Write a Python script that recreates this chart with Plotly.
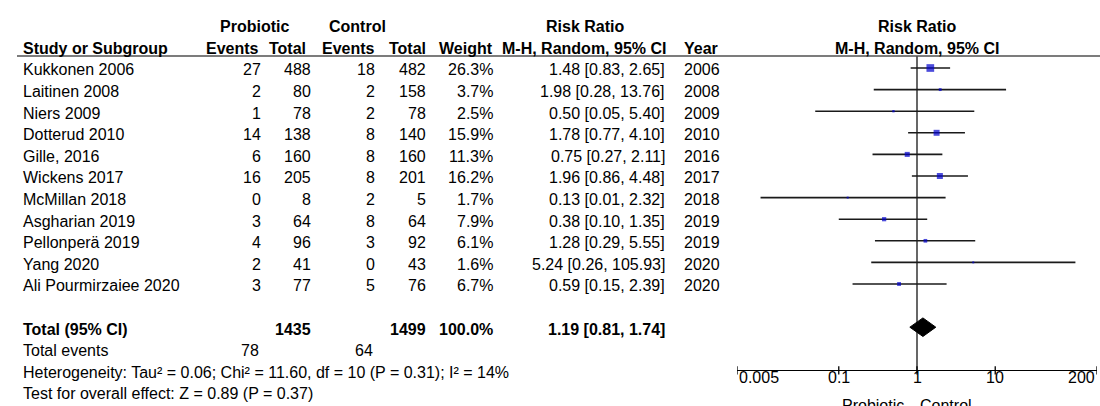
import math
import plotly.graph_objects as go

# ---------------- data ----------------
studies = ["Kukkonen 2006", "Laitinen 2008", "Niers 2009", "Dotterud 2010", "Gille, 2016",
           "Wickens 2017", "McMillan 2018", "Asgharian 2019", "Pellonperä 2019", "Yang 2020",
           "Ali Pourmirzaiee 2020"]
pro_events = [27, 2, 1, 14, 6, 16, 0, 3, 4, 2, 3]
pro_total = [488, 80, 78, 138, 160, 205, 8, 64, 96, 41, 77]
ctl_events = [18, 2, 2, 8, 8, 8, 2, 8, 3, 0, 5]
ctl_total = [482, 158, 78, 140, 160, 201, 5, 64, 92, 43, 76]
weight = [26.3, 3.7, 2.5, 15.9, 11.3, 16.2, 1.7, 7.9, 6.1, 1.6, 6.7]
rr = [1.48, 1.98, 0.50, 1.78, 0.75, 1.96, 0.13, 0.38, 1.28, 5.24, 0.59]
rr_lo = [0.83, 0.28, 0.05, 0.77, 0.27, 0.86, 0.01, 0.10, 0.29, 0.26, 0.15]
rr_hi = [2.65, 13.76, 5.40, 4.10, 2.11, 4.48, 2.32, 1.35, 5.55, 105.93, 2.39]
year = [2006, 2008, 2009, 2010, 2016, 2017, 2018, 2019, 2019, 2020, 2020]

total_pro = 1435
total_ctl = 1499
total_weight = 100.0
total_rr, total_lo, total_hi = 1.19, 0.81, 1.74
events_pro_sum = 78
events_ctl_sum = 64
heterogeneity = "Heterogeneity: Tau² = 0.06; Chi² = 11.60, df = 10 (P = 0.31); I² = 14%"
overall = "Test for overall effect: Z = 0.89 (P = 0.37)"

tick_vals = [0.005, 0.1, 1, 10, 200]
tick_text = ["0.005", "0.1", "1", "10", "200"]
null_value = 1
favours_left = "Probiotic"
favours_right = "Control"

# ---------------- layout constants ----------------
W, H = 1100, 406
ROW0_PX = 68.0      # pixel y of first study row
ROW_PX = 21.6       # row pitch in px
Y_TOP = (0 - ROW0_PX) / ROW_PX
Y_BOT = (H - ROW0_PX) / ROW_PX
TXT = 0.09          # text offset (rows)
FONT = "Liberation Sans, Arial, sans-serif"
FS = 16
n = len(studies)
total_row = n + 1
axis_row = total_row + 2
header_line_row = -0.56

def px(x):
    return x / W

def paper_y(row):
    return (Y_BOT - row) / (Y_BOT - Y_TOP)

ann = []
def txt(xpx, row, s, anchor="left", bold=False, xref="paper"):
    ann.append(dict(x=px(xpx) if xref == "paper" else xpx, y=row + TXT, xref=xref, yref="y",
                    text=f"<b>{s}</b>" if bold else s, showarrow=False,
                    xanchor=anchor, yanchor="middle",
                    font=dict(family=FONT, size=FS, color="#000")))

C_STUDY, C_PE, C_PT, C_CE, C_CT, C_W, C_CI, C_YEAR = 21, 263, 313, 377, 428, 495, 667, 682

# headers
txt(254, -2, "Probiotic", "center", True)
txt(357, -2, "Control", "center", True)
txt(585, -2, "Risk Ratio", "center", True)
txt(math.log10(null_value), -2, "Risk Ratio", "center", True, xref="x")
txt(C_STUDY, -1, "Study or Subgroup", "left", True)
txt(261, -1, "Events", "right", True)
txt(308, -1, "Total", "right", True)
txt(C_CE, -1, "Events", "right", True)
txt(C_CT, -1, "Total", "right", True)
txt(C_W, -1, "Weight", "right", True)
txt(668, -1, "M-H, Random, 95% CI", "right", True)
txt(C_YEAR, -1, "Year", "left", True)
txt(math.log10(null_value), -1, "M-H, Random, 95% CI", "center", True, xref="x")

# study rows
for i in range(n):
    txt(C_STUDY, i, studies[i])
    txt(C_PE, i, str(pro_events[i]), "right")
    txt(C_PT, i, str(pro_total[i]), "right")
    txt(C_CE, i, str(ctl_events[i]), "right")
    txt(C_CT, i, str(ctl_total[i]), "right")
    txt(C_W, i, f"{weight[i]:.1f}%", "right")
    txt(C_CI, i, f"{rr[i]:.2f} [{rr_lo[i]:.2f}, {rr_hi[i]:.2f}]", "right")
    txt(C_YEAR, i, str(year[i]))

# totals
txt(C_STUDY, total_row, "Total (95% CI)", "left", True)
txt(C_PT, total_row, str(total_pro), "right", True)
txt(C_CT, total_row, str(total_ctl), "right", True)
txt(C_W, total_row, f"{total_weight:.1f}%", "right", True)
txt(C_CI, total_row, f"{total_rr:.2f} [{total_lo:.2f}, {total_hi:.2f}]", "right", True)
txt(C_STUDY, total_row + 1, "Total events")
txt(261, total_row + 1, str(events_pro_sum), "right")
txt(375, total_row + 1, str(events_ctl_sum), "right")
txt(C_STUDY, total_row + 2, heterogeneity)
txt(C_STUDY, total_row + 3, overall)

# tick labels
for k, (tv, tt) in enumerate(zip(tick_vals, tick_text)):
    anchor = "left" if k == 0 else ("right" if k == len(tick_vals) - 1 else "center")
    ann.append(dict(x=math.log10(tv), y=axis_row + 0.33, xref="x", yref="y", text=tt,
                    showarrow=False, xanchor=anchor, yanchor="middle",
                    font=dict(family=FONT, size=FS, color="#000")))
ann.append(dict(x=px(906), y=axis_row + 1.62, xref="paper", yref="y", text=favours_left,
                showarrow=False, xanchor="right", yanchor="middle",
                font=dict(family=FONT, size=FS, color="#000")))
ann.append(dict(x=px(918), y=axis_row + 1.62, xref="paper", yref="y", text=favours_right,
                showarrow=False, xanchor="left", yanchor="middle",
                font=dict(family=FONT, size=FS, color="#000")))

fig = go.Figure()

# null line
fig.add_trace(go.Scatter(x=[null_value, null_value], y=[header_line_row, axis_row], mode="lines",
                         line=dict(color="#000", width=1.2), hoverinfo="skip",
                         showlegend=False, cliponaxis=False))
# CI lines
cx, cy = [], []
for i in range(n):
    cx += [rr_lo[i], rr_hi[i], None]
    cy += [i, i, None]
fig.add_trace(go.Scatter(x=cx, y=cy, mode="lines", line=dict(color="#1a1a1a", width=1.6),
                         hoverinfo="skip", showlegend=False, cliponaxis=False))
# squares
fig.add_trace(go.Scatter(x=rr, y=list(range(n)), mode="markers",
                         marker=dict(symbol="square", color="#0000CC",
                                     size=[max(2.0, 1.5 * math.sqrt(w)) for w in weight],
                                     line=dict(width=0)),
                         hoverinfo="skip", showlegend=False, cliponaxis=False))
# diamond
dh = 0.43
fig.add_trace(go.Scatter(x=[total_lo, total_rr, total_hi, total_rr, total_lo],
                         y=[total_row, total_row - dh, total_row, total_row + dh, total_row],
                         mode="lines", fill="toself", fillcolor="#000",
                         line=dict(color="#000", width=1), hoverinfo="skip",
                         showlegend=False, cliponaxis=False))
# ticks crossing axis
tx, ty = [], []
for tv in tick_vals:
    tx += [tv, tv, None]
    ty += [axis_row - 0.19, axis_row + 0.19, None]
fig.add_trace(go.Scatter(x=tx, y=ty, mode="lines", line=dict(color="#000", width=1.3),
                         hoverinfo="skip", showlegend=False, cliponaxis=False))

shapes = [
    dict(type="line", xref="paper", yref="y", x0=px(17), x1=1, y0=header_line_row,
         y1=header_line_row, line=dict(color="#505050", width=1.5)),
]

fig.update_layout(
    width=W, height=H, autosize=False,
    margin=dict(l=0, r=0, t=0, b=0),
    paper_bgcolor="white", plot_bgcolor="white",
    xaxis=dict(type="log", range=[math.log10(tick_vals[0]), math.log10(tick_vals[-1])],
               domain=[737 / W, 1097 / W], anchor="free", position=paper_y(axis_row),
               showline=True, linecolor="#000", linewidth=1.3, ticks="",
               showticklabels=False, showgrid=False, zeroline=False, fixedrange=True),
    yaxis=dict(range=[Y_BOT, Y_TOP], domain=[0, 1], visible=False, fixedrange=True),
    annotations=ann, shapes=shapes,
)

fig.write_html("out.html", config={"displayModeBar": False},
               post_script="document.body.style.margin='0';document.body.style.padding='0';")
